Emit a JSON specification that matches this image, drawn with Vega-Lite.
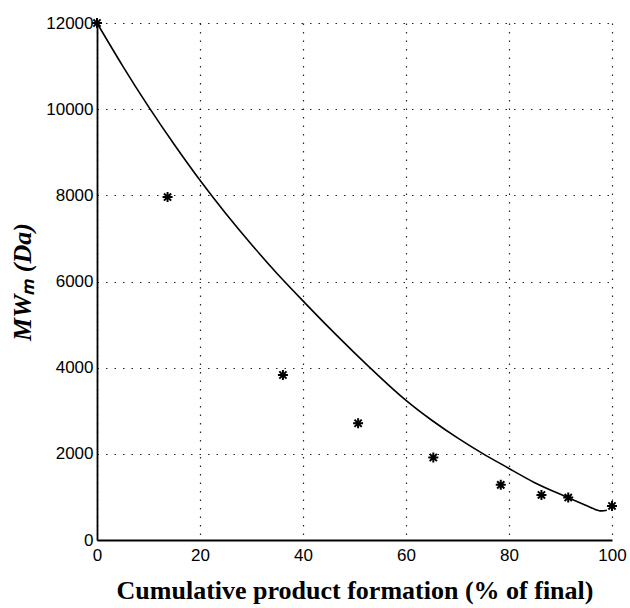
{
  "$schema": "https://vega.github.io/schema/vega-lite/v6.json",
  "autosize": "none",
  "width": 515,
  "height": 517,
  "padding": {"left": 97, "top": 23, "right": 18, "bottom": 68},
  "background": "white",
  "config": {
    "view": {"stroke": null},
    "axis": {
      "labelFont": "Liberation Sans",
      "labelFontSize": 17,
      "labelColor": "black",
      "titleFont": "Liberation Serif",
      "titleFontWeight": "bold",
      "titleFontSize": 26,
      "titleColor": "black",
      "domainColor": "black",
      "domainWidth": 1.8,
      "ticks": false,
      "gridColor": "black",
      "gridDash": [1.5, 7],
      "gridWidth": 1.2,
      "gridOpacity": 0.85,
      "labelFlush": false,
      "labelOverlap": false
    }
  },
  "datasets": {
    "curve": [
      {"x": 0, "y": 12000},
      {"x": 5, "y": 11000},
      {"x": 10, "y": 10060},
      {"x": 15, "y": 9180},
      {"x": 20, "y": 8350},
      {"x": 25, "y": 7580},
      {"x": 30, "y": 6860},
      {"x": 35, "y": 6180},
      {"x": 40, "y": 5550},
      {"x": 45, "y": 4935},
      {"x": 50, "y": 4345},
      {"x": 55, "y": 3775},
      {"x": 60, "y": 3240},
      {"x": 65, "y": 2780},
      {"x": 70, "y": 2370},
      {"x": 75, "y": 2000},
      {"x": 80, "y": 1660},
      {"x": 85, "y": 1330},
      {"x": 90, "y": 1060},
      {"x": 95, "y": 800},
      {"x": 97.5, "y": 680},
      {"x": 99, "y": 690}
    ],
    "points": [
      {"x": 0, "y": 12000},
      {"x": 13.7, "y": 7960},
      {"x": 36.1, "y": 3830},
      {"x": 50.7, "y": 2710},
      {"x": 65.3, "y": 1915},
      {"x": 78.4, "y": 1280},
      {"x": 86.3, "y": 1045},
      {"x": 91.5, "y": 985},
      {"x": 100, "y": 790}
    ]
  },
  "layer": [
    {
      "data": {"name": "curve"},
      "mark": {"type": "line", "color": "black", "strokeWidth": 1.6, "interpolate": "natural"},
      "encoding": {
        "x": {
          "field": "x", "type": "quantitative",
          "scale": {"domain": [0, 100], "nice": false},
          "axis": {
            "values": [0, 20, 40, 60, 80, 100],
            "format": "d",
            "labelPadding": 7,
            "title": "Cumulative product formation (% of final)",
            "titlePadding": 14
          }
        },
        "y": {
          "field": "y", "type": "quantitative",
          "scale": {"domain": [0, 12000], "nice": false},
          "axis": {
            "values": [0, 2000, 4000, 6000, 8000, 10000, 12000],
            "format": "d",
            "labelPadding": 4,
            "title": "MWₘ (Da)",
            "titleFontStyle": "italic",
            "titlePadding": 10
          }
        }
      }
    },
    {
      "data": {"name": "points"},
      "mark": {
        "type": "point",
        "shape": "M-1,0L1,0M0,-1L0,1M-0.72,-0.72L0.72,0.72M-0.72,0.72L0.72,-0.72",
        "filled": false,
        "stroke": "black",
        "strokeWidth": 2,
        "size": 100,
        "opacity": 1
      },
      "encoding": {
        "x": {"field": "x", "type": "quantitative"},
        "y": {"field": "y", "type": "quantitative"}
      }
    }
  ]
}
